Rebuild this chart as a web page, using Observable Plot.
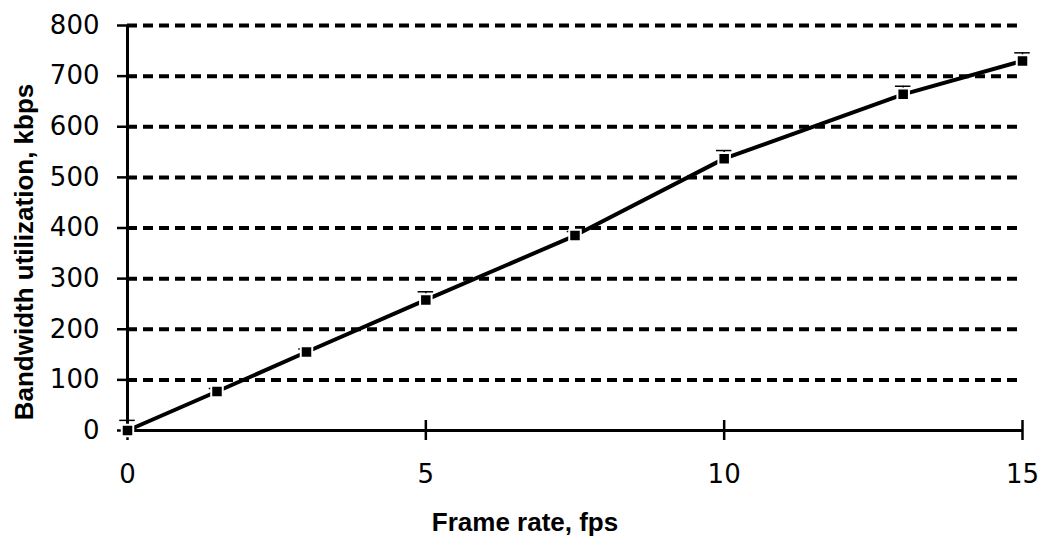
<!DOCTYPE html>
<html>
<head>
<meta charset="utf-8">
<script src="https://cdn.jsdelivr.net/npm/d3@7"></script>
<script src="https://cdn.jsdelivr.net/npm/@observablehq/plot@0.6"></script>
<style>
  html, body { margin: 0; padding: 0; background: white; }
</style>
</head>
<body>
<div id="chart"></div>
<script>
const frameRate = [0, 1.5, 3, 5, 7.5, 10, 13, 15];
const bandwidth = [0, 77, 155, 258, 385, 537, 664, 730];
const errorBar = [20, 6, 6, 16, 8, 16, 16, 16];
const xTicks = [0, 5, 10, 15];
const yTicks = [0, 100, 200, 300, 400, 500, 600, 700, 800];
const gridValues = [100, 200, 300, 400, 500, 600, 700, 800];
const xLabel = "Frame rate, fps";
const yLabel = "Bandwidth utilization, kbps";

const points = frameRate.map((x, i) => ({x, y: bandwidth[i], e: errorBar[i]}));
const capHalf = 0.13;

const chart = Plot.plot({
  width: 1042,
  height: 538,
  marginLeft: 127,
  marginRight: 20,
  marginTop: 25,
  marginBottom: 108,
  x: {domain: [0, 15]},
  y: {domain: [0, 800]},
  style: {fontFamily: "DejaVu Sans", color: "black", background: "white"},
  marks: [
    Plot.ruleY(gridValues, {x1: 0, x2: 15, stroke: "black", strokeWidth: 4, strokeDasharray: "10,6"}),
    Plot.ruleX([0], {y1: 0, y2: 800, stroke: "black", strokeWidth: 3}),
    Plot.ruleY([0], {x1: 0, x2: 15, stroke: "black", strokeWidth: 3}),
    Plot.axisY({ticks: yTicks, tickSize: 20, dx: 10, tickPadding: 18, fontSize: 26, strokeWidth: 2.5, label: null}),
    Plot.axisX({ticks: xTicks, tickSize: 20, dy: -10, tickPadding: 24, fontSize: 26, strokeWidth: 2.5, label: null}),
    Plot.line(points, {x: "x", y: "y", stroke: "black", strokeWidth: 4}),
    Plot.ruleX(points, {x: "x", y1: "y", y2: d => d.y + d.e, stroke: "black", strokeWidth: 1.5}),
    Plot.ruleY(points, {y: d => d.y + d.e, x1: d => d.x - capHalf, x2: d => d.x + capHalf, stroke: "black", strokeWidth: 1.5}),
    Plot.dot(points, {x: "x", y: "y", symbol: "square", r: 6.5, fill: "black", stroke: "white", strokeWidth: 2}),
    Plot.text([yLabel], {frameAnchor: "left", rotate: -90, dx: -95, dy: 24, lineAnchor: "bottom", textAnchor: "middle",
      fontSize: 26, fontWeight: "bold", fontFamily: "Liberation Sans", fill: "black"}),
    Plot.text([xLabel], {frameAnchor: "bottom", dx: -50, dy: 100, lineAnchor: "bottom", textAnchor: "middle",
      fontSize: 26, fontWeight: "bold", fontFamily: "Liberation Sans", fill: "black"})
  ]
});
document.getElementById("chart").append(chart);
</script>
</body>
</html>
